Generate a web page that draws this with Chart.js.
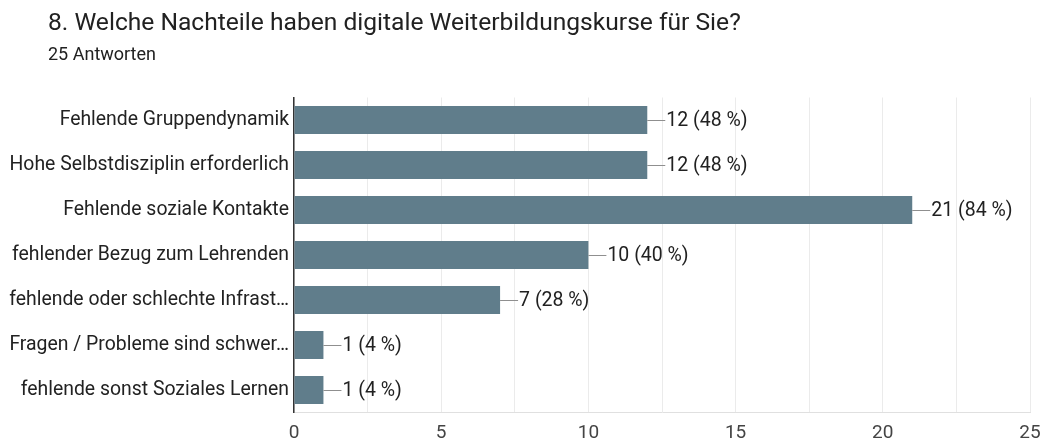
<!DOCTYPE html>
<html>
<head>
<meta charset="utf-8">
<script src="https://cdn.jsdelivr.net/npm/chart.js@4"></script>
<style>
  html, body { margin: 0; padding: 0; background: #fff; }
  #wrap { width: 1042px; height: 444px; position: relative; font-family: Roboto, sans-serif; color: #212121; }
  #wrap h1 { position: absolute; left: 48px; top: 10px; margin: 0; font-size: 24.6px; line-height: 1; font-weight: normal; white-space: nowrap; }
  #wrap .sub { position: absolute; left: 48px; top: 44.5px; font-size: 18px; line-height: 1; }
</style>
</head>
<body>
<div id="wrap">
  <canvas id="chartNachteile"></canvas>
  <h1 id="frage"></h1>
  <div class="sub" id="antworten"></div>
</div>
<script>
const questionTitle = '8. Welche Nachteile haben digitale Weiterbildungskurse für Sie?';
const totalAnswers = 25;
const categories = [
  'Fehlende Gruppendynamik',
  'Hohe Selbstdisziplin erforderlich',
  'Fehlende soziale Kontakte',
  'fehlender Bezug zum Lehrenden',
  'fehlende oder schlechte Infrast…',
  'Fragen / Probleme sind schwer…',
  'fehlende sonst Soziales Lernen'
];
const counts = [12, 12, 21, 10, 7, 1, 1];
const xTicks = [0, 5, 10, 15, 20, 25];

document.getElementById('frage').textContent = questionTitle;
document.getElementById('antworten').textContent = totalAnswers + ' Antworten';

// Wert-Labels mit kurzer Führungslinie rechts neben jedem Balken
const valueLabels = {
  id: 'valueLabels',
  afterDatasetsDraw(chart) {
    const ctx = chart.ctx;
    const meta = chart.getDatasetMeta(0);
    ctx.save();
    ctx.font = '19.5px Roboto';
    ctx.textBaseline = 'middle';
    meta.data.forEach((bar, i) => {
      const v = counts[i];
      const pct = Math.round(v / totalAnswers * 100);
      ctx.strokeStyle = '#8f8f8f';
      ctx.lineWidth = 1;
      ctx.beginPath();
      ctx.moveTo(bar.x, Math.round(bar.y) + 0.5);
      ctx.lineTo(bar.x + 18, Math.round(bar.y) + 0.5);
      ctx.stroke();
      ctx.fillStyle = '#212121';
      ctx.fillText(`${v} (${pct} %)`, bar.x + 19, bar.y + 1);
    });
    ctx.restore();
  }
};

new Chart(document.getElementById('chartNachteile'), {
  type: 'bar',
  data: {
    labels: categories,
    datasets: [{
      data: counts,
      backgroundColor: '#607d8b',
      borderWidth: 0,
      barPercentage: 0.62,
      categoryPercentage: 1
    }]
  },
  options: {
    indexAxis: 'y',
    responsive: true,
    maintainAspectRatio: false,
    animation: false,
    layout: { padding: { left: 0, right: 12, top: 97.5, bottom: 0 } },
    plugins: {
      legend: { display: false },
      tooltip: { enabled: false }
    },
    scales: {
      x: {
        min: 0,
        max: 25,
        afterFit(scale) {
          scale.height = 31.5;
          scale.paddingLeft = 0;
          scale.paddingRight = 0;
        },
        ticks: {
          stepSize: 2.5,
          padding: 9.5,
          color: '#444',
          font: { family: 'Roboto', size: 19 },
          callback: v => xTicks.includes(v) ? String(v) : ''
        },
        grid: { color: '#ebebeb', drawTicks: false },
        border: { color: '#e0e0e0' }
      },
      y: {
        afterFit(scale) { scale.width = 294; },
        ticks: {
          padding: 5,
          color: '#222',
          font: { family: 'Roboto', size: 19.4 }
        },
        grid: { display: false, drawTicks: false },
        border: { color: '#333', width: 1.5 }
      }
    }
  },
  plugins: [valueLabels]
});
</script>
</body>
</html>
